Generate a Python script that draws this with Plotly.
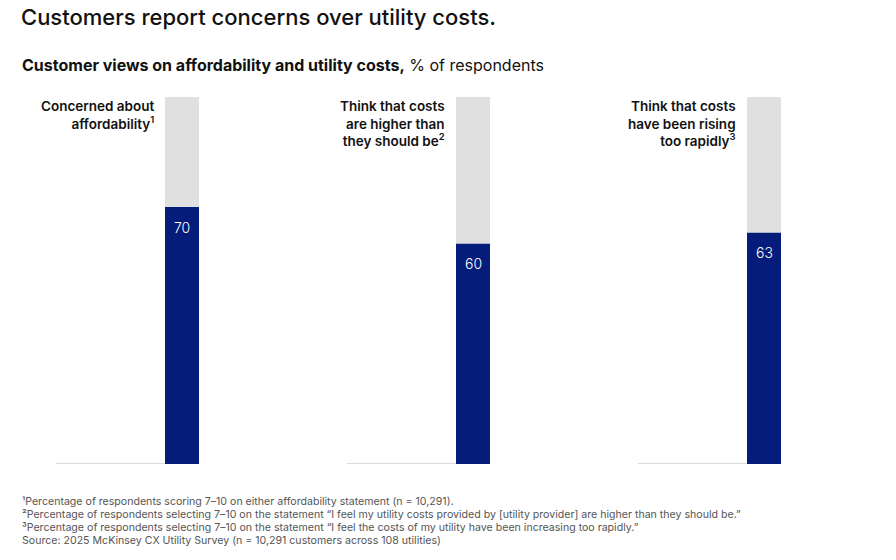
import plotly.graph_objects as go

categories = [
    "Concerned about<br>affordability<sup>1</sup>",
    "Think that costs<br>are higher than<br>they should be<sup>2</sup>",
    "Think that costs<br>have been rising<br>too rapidly<sup>3</sup>",
]
values = [70, 60, 63]
totals = [100, 100, 100]

title = "Customers report concerns over utility costs."
subtitle_bold = "Customer views on affordability and utility costs,"
subtitle_rest = " % of respondents"
footnotes = [
    "¹Percentage of respondents scoring 7–10 on either affordability statement (n = 10,291).",
    "²Percentage of respondents selecting 7–10 on the statement “I feel my utility costs provided by [utility provider] are higher than they should be.”",
    "³Percentage of respondents selecting 7–10 on the statement “I feel the costs of my utility have been increasing too rapidly.”",
    "Source: 2025 McKinsey CX Utility Survey (n = 10,291 customers across 108 utilities)",
]

W, H = 896, 560
OFF = 8  # page offset of the plot in the browser
FONT = "Inter"
NAVY = "#051c7a"
GREY = "#e0e0e0"


def px(x):
    return (x - OFF) / W


def py(y):
    return 1 - (y - OFF) / H


x0, step, bw = 182, 291, 34
xs = [x0 - OFF + step * i for i in range(len(values))]

fig = go.Figure()
fig.add_trace(go.Bar(x=xs, y=totals, width=bw, marker=dict(color=GREY, line_width=0),
                     hoverinfo="skip", showlegend=False))
fig.add_trace(go.Bar(x=xs, y=values, width=bw, marker=dict(color=NAVY, line_width=0),
                     hoverinfo="skip", showlegend=False))

y_bot, y_top = 464, 97
for x, v, cat in zip(xs, values, categories):
    fig.add_shape(type="line", xref="x", yref="y", x0=x - bw / 2 - 109, x1=x + bw / 2,
                  y0=0, y1=0, line=dict(color="#cfcfcf", width=1.5), layer="below")
    fig.add_annotation(x=x - bw / 2 - 9, y=100, xref="x", yref="y", text=cat,
                       showarrow=False, xanchor="right", yanchor="top", align="right",
                       yshift=1,
                       font=dict(family=FONT, size=13.5, color="#111111", weight=600))
    fig.add_annotation(x=x, y=v, xref="x", yref="y", text=str(v), showarrow=False,
                       xanchor="center", yanchor="middle", yshift=-20,
                       font=dict(family=FONT, size=14, color="white", weight=300))

fig.add_annotation(x=px(20), y=py(3), xref="paper", yref="paper", text=title,
                   showarrow=False, xanchor="left", yanchor="top", borderpad=0,
                   font=dict(family=FONT, size=22, color="#111111", weight=500))
fig.add_annotation(x=px(20), y=py(53), xref="paper", yref="paper",
                   text=f"<b>{subtitle_bold}</b>{subtitle_rest}",
                   showarrow=False, xanchor="left", yanchor="top",
                   font=dict(family=FONT, size=16, color="#111111"))
for i, line in enumerate(footnotes):
    fig.add_annotation(x=px(20), y=py(501 + 13.3 * i), xref="paper", yref="paper",
                       text=line, showarrow=False, xanchor="left", yanchor="middle",
                       align="left", font=dict(family=FONT, size=10.6, color="#555555"))

fig.update_layout(
    width=W, height=H, margin=dict(l=0, r=0, t=0, b=0),
    paper_bgcolor="white", plot_bgcolor="white", barmode="overlay",
    xaxis=dict(range=[0, W], visible=False, fixedrange=True),
    yaxis=dict(range=[0, 100], domain=[py(y_bot), py(y_top)], visible=False),
)
fig.write_html("out.html")
